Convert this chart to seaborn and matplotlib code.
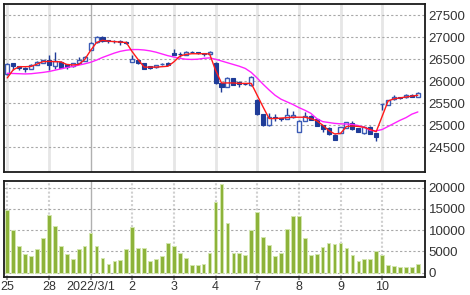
import matplotlib
matplotlib.use("Agg")
import matplotlib.pyplot as plt
import seaborn as sns
import numpy as np
import pandas as pd

# ---------------- data ----------------
day_labels = ["25", "28", "2022/3/1", "2", "3", "4", "7", "8", "9", "10"]
bars_per_day = 7
month_start_label = "2022/3/1"

open_ = [26170, 26410, 26335, 26310, 26280, 26370, 26425,
         26485, 26350, 26445, 26385, 26355, 26410, 26470,
         26712, 26886, 27015, 26935, 26915, 26920, 26900,
         26440, 26485, 26420, 26345, 26315, 26380, 26420,
         26650, 26625, 26600, 26665, 26655, 26640, 26610,
         26420, 25950, 25875, 26065, 25990, 25940, 25915,
         25570, 25250, 25000, 25175, 25155, 25140, 25180,
         24850, 25100, 25210, 25130, 25000, 24940, 24785,
         24830, 24940, 25055, 24930, 24830, 24965, 24820,
         25470, 25460, 25590, 25630, 25630, 25690, 25650]
high = [26420, 26415, 26355, 26320, 26380, 26455, 26490,
        26600, 26660, 26455, 26395, 26420, 26545, 26570,
        26890, 27025, 27020, 26945, 26940, 26930, 26910,
        26600, 26490, 26425, 26350, 26375, 26420, 26430,
        26725, 26670, 26680, 26680, 26670, 26650, 26680,
        26440, 25960, 26100, 26070, 26000, 25960, 26110,
        25590, 25260, 25280, 25250, 25170, 25400, 25320,
        25110, 25310, 25230, 25140, 25010, 24950, 24800,
        24960, 25070, 25100, 24940, 24990, 24975, 24830,
        25490, 25580, 25690, 25650, 25700, 25700, 25745]
low = [26150, 26260, 26255, 26205, 26270, 26360, 26420,
       26255, 26270, 26290, 26270, 26330, 26400, 26460,
       26700, 26880, 26900, 26880, 26870, 26825, 26840,
       26430, 26400, 26270, 26280, 26300, 26370, 26360,
       26595, 26560, 26590, 26640, 26630, 26580, 26600,
       25940, 25760, 25860, 25910, 25875, 25910, 25900,
       25240, 24990, 24990, 25100, 25100, 25130, 25170,
       24840, 25090, 25110, 24970, 24850, 24770, 24660,
       24820, 24930, 24900, 24840, 24790, 24790, 24640,
       25345, 25450, 25580, 25600, 25620, 25640, 25640]
close = [26400, 26355, 26310, 26285, 26370, 26445, 26485,
         26370, 26470, 26295, 26320, 26410, 26485, 26560,
         26880, 27015, 26910, 26905, 26910, 26885, 26880,
         26500, 26410, 26280, 26295, 26370, 26395, 26370,
         26600, 26615, 26675, 26655, 26645, 26625, 26670,
         25950, 25875, 26065, 25915, 25930, 25930, 26100,
         25250, 25000, 25190, 25165, 25145, 25230, 25230,
         25100, 25210, 25120, 24980, 24910, 24790, 24670,
         24950, 25060, 24905, 24850, 24965, 24800, 24720,
         25480, 25570, 25650, 25625, 25690, 25650, 25740]
ma_short = [26075, 26260, 26330, 26330, 26335, 26390, 26445,
            26450, 26445, 26440, 26380, 26370, 26380, 26490,
            26700, 26880, 26930, 26910, 26900, 26890, 26880,
            26670, 26490, 26320, 26320, 26320, 26330, 26340,
            26440, 26570, 26610, 26625, 26625, 26625, 26620,
            26250, 25960, 25960, 25960, 25950, 25950, 25950,
            25680, 25410, 25150, 25150, 25160, 25170, 25180,
            25180, 25180, 25150, 25100, 25000, 24880, 24800,
            24810, 24970, 24980, 24970, 24950, 24900, 24850,
            25200, 25550, 25600, 25620, 25640, 25660, 25680]
ma_long = [26180, 26175, 26170, 26165, 26170, 26185, 26200,
           26220, 26250, 26280, 26310, 26335, 26365, 26395,
           26430, 26480, 26540, 26590, 26640, 26680, 26705,
           26720, 26720, 26710, 26690, 26660, 26620, 26580,
           26550, 26520, 26500, 26495, 26500, 26520, 26530,
           26500, 26460, 26420, 26380, 26340, 26290, 26200,
           26070, 25930, 25800, 25680, 25590, 25530, 25470,
           25400, 25340, 25270, 25150, 25080, 25060, 25040,
           25030, 25025, 25015, 24990, 24950, 24880, 24870,
           24900, 24970, 25040, 25110, 25170, 25250, 25300]
volume = [14700, 10150, 6200, 4400, 3900, 5600, 8200,
          13500, 11100, 6200, 4400, 3150, 5600, 6200,
          9400, 6200, 3450, 2050, 2750, 3000, 5650,
          10800, 5900, 5750, 2750, 3150, 3850, 6900,
          6300, 4650, 3400, 1900, 1900, 2050, 4650,
          16600, 20800, 11650, 4650, 4650, 4150, 10000,
          14300, 8350, 6450, 3950, 4550, 10300, 13300,
          13250, 8250, 4150, 4350, 6000, 6950, 6700,
          6950, 5800, 4100, 2750, 3250, 3250, 5100,
          4150, 1750, 1500, 1250, 1350, 1350, 2150]
price_ticks = [24500, 25000, 25500, 26000, 26500, 27000, 27500]
volume_ticks = [0, 5000, 10000, 15000, 20000]

# ---------------- styling ----------------
sns.set_theme(style="white")
plt.rcParams['font.family'] = ['Liberation Sans', 'DejaVu Sans']

navy = "#1f3c98"
up_edge = "#3b5bb5"
vol_color = "#8db33a"
vol_edge = "#d3e6ae"
grid_col = "#a8a8a8"
txt_col = "#333333"

df = pd.DataFrame({"i": np.arange(len(close)), "open": open_, "high": high,
                   "low": low, "close": close, "ma_s": ma_short,
                   "ma_l": ma_long, "vol": volume})
day_pos = df["i"].values[::bars_per_day]

fig = plt.figure(figsize=(4.7, 2.95), dpi=100)
L = 4.3 / 470
W = (425 - 4.3) / 470
ax1 = fig.add_axes([L, 1 - 171.7 / 295, W, (171.7 - 4.3) / 295])
ax2 = fig.add_axes([L, 1 - 277 / 295, W, (277 - 180.5) / 295])

for ax in (ax1, ax2):
    ax.set_facecolor("white")
    for lab, p in zip(day_labels, day_pos):
        if lab == month_start_label:
            ax.axvline(p, color="#b0b0b0", lw=1.0, zorder=0)
        else:
            if ax is ax1:
                ax.axvline(p, color="#e6e6e6", lw=2.0, zorder=0)
            else:
                ax.axvline(p, color="#d0d0d0", lw=1.5, ls=(0, (1, 1)), zorder=0)

# ---------------- price panel ----------------
for t in price_ticks:
    ax1.axhline(t, color=grid_col, lw=0.8, ls=(0, (2, 2)), zorder=0.5)

ax1.vlines(df["i"], df["low"], df["high"], color=navy, lw=1.0, zorder=2)
up = df["close"] >= df["open"]
body_bottom = np.minimum(df["open"], df["close"])
body_h = np.maximum(np.abs(df["close"] - df["open"]), 12)
ax1.bar(df["i"][up], body_h[up], bottom=body_bottom[up], width=0.68,
        color="white", edgecolor=up_edge, linewidth=1.0, zorder=3)
ax1.bar(df["i"][~up], body_h[~up], bottom=body_bottom[~up], width=0.68,
        color=navy, edgecolor=navy, linewidth=0.8, zorder=3)

sns.lineplot(data=df, x="i", y="ma_l", ax=ax1, color="#ff22ff", lw=1.0, zorder=4)
sns.lineplot(data=df, x="i", y="ma_s", ax=ax1, color="#ff1a1a", lw=1.0, zorder=5)

ax1.set_xlim(-0.5, 70.2)
ax1.set_ylim(23940, 27750)
ax1.set_yticks(price_ticks)
ax1.yaxis.tick_right()
ax1.set_xticks([])
ax1.set_xlabel("")
ax1.set_ylabel("")

# ---------------- volume panel ----------------
for t in volume_ticks:
    ax2.axhline(t, color=grid_col, lw=0.8, ls=(0, (2, 2)), zorder=0.5)
sns.barplot(data=df, x="i", y="vol", ax=ax2, native_scale=True, color=vol_color,
            saturation=1, width=0.62, errorbar=None, edgecolor=vol_edge,
            linewidth=0.7, zorder=3)
ax2.set_xlim(-0.5, 70.2)
ax2.set_ylim(-1000, 21700)
ax2.set_yticks(volume_ticks)
ax2.yaxis.tick_right()
ax2.set_xticks(day_pos)
ax2.set_xticklabels(day_labels)
ax2.set_xlabel("")
ax2.set_ylabel("")

for ax in (ax1, ax2):
    for s in ax.spines.values():
        s.set_color("#1a1a1a")
        s.set_linewidth(1.3)
        s.set_visible(True)
    ax.tick_params(axis="y", which="both", length=0, pad=2.5, labelsize=9.5,
                   labelcolor=txt_col, right=False, left=False,
                   labelright=True, labelleft=False)
ax2.tick_params(axis="x", length=2.5, width=1.5, color="#999999", pad=0.5,
                labelsize=9, labelcolor=txt_col, bottom=True)

fig.savefig("out.png", dpi=100)
